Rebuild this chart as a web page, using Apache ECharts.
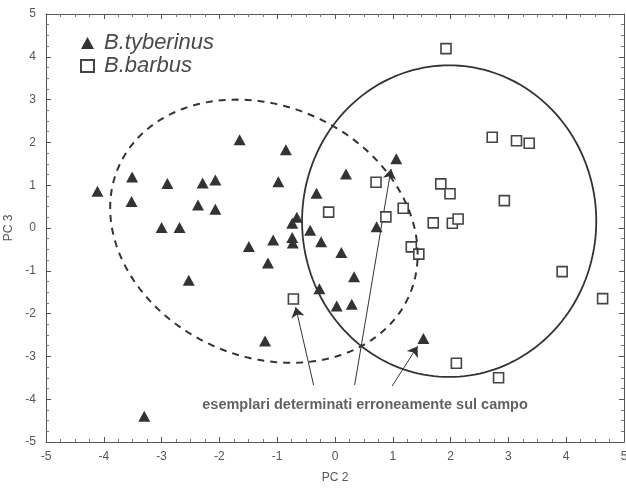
<!DOCTYPE html>
<html>
<head>
<meta charset="utf-8">
<script src="https://cdn.jsdelivr.net/npm/echarts@6/dist/echarts.min.js"></script>
<style>
  html, body { margin: 0; padding: 0; background: #fff; }
  #main { width: 626px; height: 489px; }
</style>
</head>
<body>
<div id="main"></div>
<script>
// punti PC2 / PC3
const tyberinus = [
  [-4.11, 0.86], [-3.51, 1.19], [-3.52, 0.62], [-2.90, 1.04], [-3.00, 0.01],
  [-2.69, 0.01], [-2.29, 1.05], [-2.07, 1.12], [-2.37, 0.54], [-2.07, 0.44],
  [-1.65, 2.06], [-0.85, 1.83], [-0.98, 1.08], [-1.49, -0.43], [-0.66, 0.25],
  [-0.74, 0.11], [-0.43, -0.05], [-0.32, 0.81], [-0.74, -0.22], [-0.73, -0.35],
  [-1.07, -0.28], [-1.16, -0.82], [-2.53, -1.22], [-0.27, -1.42], [-1.21, -2.64],
  [-3.30, -4.40], [1.06, 1.62], [0.19, 1.26], [-0.24, -0.32], [0.72, 0.03],
  [0.11, -0.57], [0.33, -1.14], [0.03, -1.82], [0.29, -1.78], [1.53, -2.58]
]
const barbus = [
  [1.92, 4.19], [2.72, 2.12], [3.14, 2.04], [3.36, 1.98], [0.71, 1.07],
  [1.83, 1.03], [1.99, 0.80], [2.93, 0.64], [-0.11, 0.37], [0.88, 0.26],
  [1.18, 0.46], [1.70, 0.12], [2.03, 0.11], [2.13, 0.21], [1.32, -0.44],
  [1.45, -0.61], [3.93, -1.02], [4.63, -1.65], [2.10, -3.16], [2.83, -3.50],
  [-0.72, -1.66]
]
// ellissi: centro, semiassi, correlazione
const ellTyb = { cx: -1.23, cy: -0.075, sx: 2.66, sy: 3.075, r: -0.177 }
const ellBar = { cx: 1.975, cy: 0.16, sx: 2.545, sy: 3.64, r: 0 }
// frecce: [partenza, punta]
const arrows = [
  [[-0.37, -3.67], [-0.68, -1.85]],
  [[0.34, -3.67], [0.97, 1.38]],
  [[0.99, -3.69], [1.43, -2.76]]
]
const noteText = 'esemplari determinati erroneamente sul campo'
const notePos = [0.52, -4.14]
const ticks = [-5, 5]

function ellipse(e) {
  const pts = []
  for (let i = 0; i <= 180; i++) {
    const t = i / 180 * 2 * Math.PI
    pts.push([e.cx + e.sx * Math.cos(t),
      e.cy + e.sy * (e.r * Math.cos(t) + Math.sqrt(1 - e.r * e.r) * Math.sin(t))])
  }
  return pts
}

const font = 'Liberation Sans, Arial, sans-serif'
const axisCommon = {
  min: ticks[0], max: ticks[1], interval: 1,
  axisLine: { show: true, onZero: false, lineStyle: { color: '#555', width: 1 } },
  axisTick: { show: true, inside: true, length: 5, lineStyle: { color: '#555' } },
  minorTick: { show: true, splitNumber: 4, length: 3, lineStyle: { color: '#777' } },
  splitLine: { show: false },
  axisLabel: { color: '#555', fontSize: 12, fontFamily: font }
}

const myChart = echarts.init(document.getElementById('main'))
const option = {
  animation: false,
  backgroundColor: '#fff',
  grid: { left: 46, top: 14, right: 2, bottom: 47, outerBoundsMode: 'none' },
  legend: {
    orient: 'vertical',
    left: 75, top: 27,
    itemWidth: 13, itemHeight: 12,
    itemGap: 1,
    data: ['B.tyberinus', 'B.barbus'],
    textStyle: { fontSize: 22, fontStyle: 'italic', color: '#4a4a4a', fontFamily: font, padding: [0, 0, 0, 5] }
  },
  xAxis: [
    Object.assign({}, axisCommon, {
      type: 'value', position: 'bottom', name: 'PC 2', nameLocation: 'middle', nameGap: 30,
      nameTextStyle: { color: '#555', fontSize: 12, fontFamily: font },
      axisLabel: Object.assign({}, axisCommon.axisLabel, { margin: 9 })
    }),
    Object.assign({}, axisCommon, { type: 'value', position: 'top', axisLabel: { show: false } })
  ],
  yAxis: [
    Object.assign({}, axisCommon, {
      type: 'value', position: 'left', name: 'PC 3', nameLocation: 'middle', nameGap: 30,
      nameTextStyle: { color: '#555', fontSize: 12, fontFamily: font },
      axisLabel: Object.assign({}, axisCommon.axisLabel, { margin: 10 })
    }),
    Object.assign({}, axisCommon, { type: 'value', position: 'right', axisLabel: { show: false } })
  ],
  series: [
    {
      name: 'ellisse tyberinus', type: 'line', data: ellipse(ellTyb), showSymbol: false,
      lineStyle: { color: '#333', width: 2, type: [7, 6] }, silent: true
    },
    {
      name: 'ellisse barbus', type: 'line', data: ellipse(ellBar), showSymbol: false,
      lineStyle: { color: '#333', width: 1.8 }, silent: true
    },
    {
      name: 'frecce', type: 'lines', coordinateSystem: 'cartesian2d',
      symbol: ['none', 'arrow'], symbolSize: 10,
      lineStyle: { color: '#333', width: 1, opacity: 1 },
      data: arrows.map(a => ({ coords: a }))
    },
    {
      name: 'B.tyberinus', type: 'scatter', data: tyberinus,
      symbol: 'triangle', symbolSize: [12, 11],
      itemStyle: { color: '#333', opacity: 1 }
    },
    {
      name: 'B.barbus', type: 'scatter', data: barbus,
      symbol: 'rect', symbolSize: 10,
      itemStyle: { color: '#fff', borderColor: '#444', borderWidth: 1.6, opacity: 1 }
    },
    {
      name: 'nota', type: 'scatter', data: [notePos], symbolSize: 0, silent: true,
      label: {
        show: true, position: 'inside', formatter: noteText,
        color: '#3a3a3a', fontSize: 14.5, fontWeight: 'bold', fontFamily: font
      }
    }
  ]
}
myChart.setOption(option)
</script>
</body>
</html>
